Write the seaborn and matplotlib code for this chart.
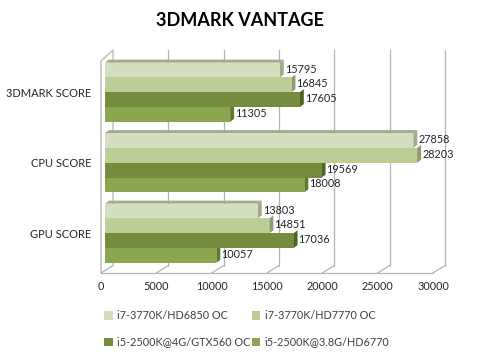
import numpy as np
import pandas as pd
import matplotlib
matplotlib.use("Agg")
import matplotlib.pyplot as plt
import matplotlib.transforms as mtransforms
from matplotlib.patches import Polygon
import seaborn as sns

# chart data
tests = ["3DMARK SCORE", "CPU SCORE", "GPU SCORE"]
systems = ["i7-3770K/HD6850 OC", "i7-3770K/HD7770 OC",
           "i5-2500K@4G/GTX560 OC", "i5-2500K@3.8G/HD6770"]
scores = {
    "i7-3770K/HD6850 OC": [15795, 27858, 13803],
    "i7-3770K/HD7770 OC": [16845, 28203, 14851],
    "i5-2500K@4G/GTX560 OC": [17605, 19569, 17036],
    "i5-2500K@3.8G/HD6770": [11305, 18008, 10057],
}
colors = ["#d3dfbe", "#bccd95", "#758b3e", "#8aa74f"]
side_colors = ["#a3ab8e", "#8f9c6e", "#4e6324", "#5f7a2c"]
x_ticks = [0, 5000, 10000, 15000, 20000, 25000, 30000]

rows = []
for s in systems:
    for t, v in zip(tests, scores[s]):
        rows.append({"test": t, "system": s, "score": v})
df = pd.DataFrame(rows)

sns.set_theme(style="white")
plt.rcParams["font.family"] = ["Lato", "DejaVu Sans"]

W, H = 480, 352
fig = plt.figure(figsize=(4.8, 3.52), dpi=100)
# axes placed in pixels: left 105, right 437, top 57, bottom 268.5
ax = fig.add_axes([105 / W, (H - 268.5) / H, 332 / W, 211.5 / H])

sns.barplot(data=df, y="test", x="score", hue="system", order=tests,
            hue_order=systems, palette=colors, orient="h", width=0.84,
            saturation=1, linewidth=0, legend=False, ax=ax, zorder=3)
ax.set_xlim(0, 30000)
ax.set_ylim(2.5, -0.5)
for sp in ax.spines.values():
    sp.set_visible(False)
ax.set_xticks([])
ax.set_xlabel("")
ax.set_ylabel("")
ax.tick_params(axis="y", length=0, pad=10, labelsize=8, labelcolor="#262626")
ax.patch.set_alpha(0)

pix = mtransforms.IdentityTransform()
def px(x):
    return ax.transData.transform((x, 0))[0]
def py(y_from_top):
    return H - y_from_top

grid_c = "#b4b4b4"
back_top, back_bot, front_bot = 50, 265.5, 273
# back wall grid lines and floor
for t in x_ticks:
    xb = px(t) + 8
    xf = px(t) - 4
    if t > 0:
        ax.plot([xb, xb], [py(back_top), py(back_bot)], color=grid_c, lw=0.9,
                transform=pix, clip_on=False, zorder=1)
    ax.plot([xf, xb], [py(front_bot), py(back_bot)], color=grid_c, lw=0.9,
            transform=pix, clip_on=False, zorder=1)
    ax.text(xf, py(287), f"{t}", transform=pix, ha="center", va="center",
            fontsize=7.8, color="#262626")
ax.plot([px(0) - 4, px(30000) - 4], [py(front_bot), py(front_bot)],
        color=grid_c, lw=0.9, transform=pix, clip_on=False, zorder=1)
# left wall
x0f, x0b = px(0) - 4, px(0) + 8
ax.plot([x0f, x0f, x0b, x0b], [py(front_bot), py(61), py(back_top), py(back_bot)],
        color=grid_c, lw=0.9, transform=pix, clip_on=False, zorder=1)

# 3d faces for bars
dx, dy = 4, 3
for i, cont in enumerate(ax.containers):
    for j, bar in enumerate(cont):
        x1 = bar.get_x() + bar.get_width()
        (l, b) = ax.transData.transform((bar.get_x(), bar.get_y() + bar.get_height()))
        (r, t) = ax.transData.transform((x1, bar.get_y()))
        side = Polygon([(r, b), (r + dx, b + dy), (r + dx, t + dy), (r, t)],
                       closed=True, facecolor=side_colors[i], edgecolor="none",
                       transform=pix, zorder=2)
        ax.add_patch(side)
        if i == 0:
            top = Polygon([(l, t), (l + dx, t + dy), (r + dx, t + dy), (r, t)],
                          closed=True, facecolor="#a1aa8b", edgecolor="none",
                          transform=pix, zorder=2)
            ax.add_patch(top)
        val = scores[systems[i]][j]
        ax.text(r + dx + 1, (b + t) / 2 + 1, f"{val}", transform=pix,
                ha="left", va="center", fontsize=7.8, color="#262626", zorder=4)

fig.text(0.5, 1 - 21 / H, "3DMARK VANTAGE", ha="center", va="center",
         fontsize=13, fontweight="bold", color="#000000")

# legend, filled row by row
handles = [plt.Rectangle((0, 0), 1, 1, facecolor=c, edgecolor="none") for c in colors]
order = [0, 2, 1, 3]
leg = fig.legend([handles[k] for k in order], [systems[k] for k in order],
                 ncol=2, loc="upper left", frameon=False,
                 bbox_to_anchor=(101 / W, 1 - 307 / H), fontsize=7.8,
                 handlelength=0.8, handleheight=0.8, handletextpad=0.4,
                 columnspacing=0.1, labelspacing=1.4, labelcolor="#404040",
                 borderaxespad=0, borderpad=0.3)

fig.savefig("out.png", dpi=100)
